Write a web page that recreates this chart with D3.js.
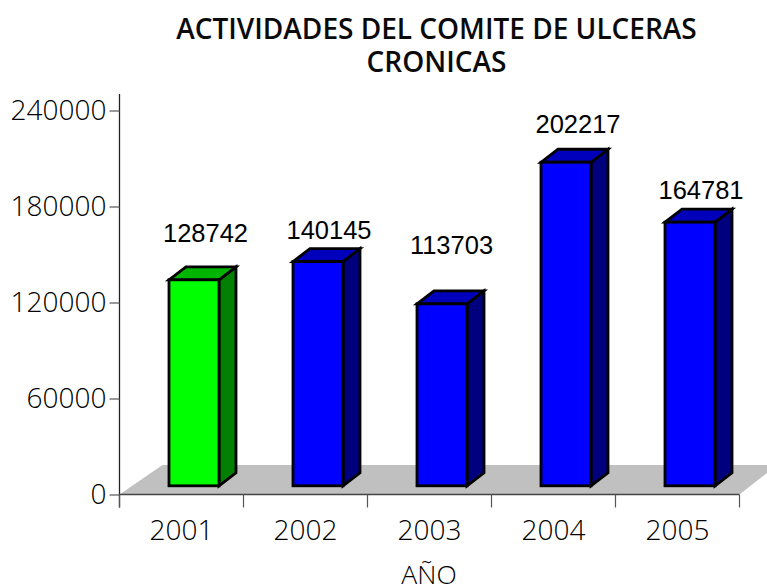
<!DOCTYPE html>
<html><head><meta charset="utf-8">
<script src="https://cdn.jsdelivr.net/npm/d3@7"></script>
<style>html,body{margin:0;padding:0;background:#fff}svg{display:block}</style>
</head><body><div id="chart"></div>
<script>
const categories = ["2001","2002","2003","2004","2005"];
const values = [128742,140145,113703,202217,164781];
const yTicks = [0,60000,120000,180000,240000];
const titleLines = ["ACTIVIDADES DEL COMITE DE ULCERAS","CRONICAS"];
const xTitle = "AÑO";
const fillColors = ["#00ff00","#0000ff","#0000ff","#0000ff","#0000ff"];
const topColors = ["#00b400","#0000bc","#0000bc","#0000bc","#0000bc"];
const sideColors = ["#007f00","#00007f","#00007f","#00007f","#00007f"];

const W=767,H=585, left=119.5,right=739.5,y0=494.5,yT=110.5;
const svg=d3.select("#chart").append("svg").attr("width",W).attr("height",H);
const uiFont='"Open Sans","Noto Sans",sans-serif';
const x=d3.scaleBand().domain(categories).range([left,right]).padding(0);
const y=d3.scaleLinear().domain([0,240000]).range([y0,yT]);

// title
svg.append("g").selectAll("text").data(titleLines).join("text")
  .attr("x",436.5).attr("y",(d,i)=>38.5+i*33.5).attr("text-anchor","middle")
  .attr("font-family",uiFont).attr("font-weight",600).attr("font-size",28).attr("fill","#0a0a0a").text(d=>d);

// floor
svg.append("path").attr("fill","#c0c0c0")
  .attr("d",`M${left},${y0}L${left+43},465L767,465L767,473L${right},${y0}Z`);

// axes
const yAxis=d3.axisLeft(y).tickValues(yTicks).tickSize(10).tickPadding(3).tickFormat(d3.format("d"));
const gy=svg.append("g").attr("transform",`translate(${left},0)`).call(yAxis);
gy.select(".domain").attr("d",`M0,94V${y0+13}`).attr("stroke","#222").attr("stroke-width",1.3);
gy.selectAll(".tick line").attr("stroke","#555").attr("stroke-width",1.2);
gy.selectAll("text").attr("font-family",uiFont).attr("font-weight",300).attr("font-size",28).attr("fill","#000");

const xAxis=d3.axisBottom(x).tickSize(0).tickPadding(26);
const gx=svg.append("g").attr("transform",`translate(0,${y0})`).call(xAxis);
gx.select(".domain").attr("d",`M${left},0H${right}`).attr("stroke","#444").attr("stroke-width",1.5);
gx.selectAll("text").attr("font-family",uiFont).attr("font-weight",300).attr("font-size",28).attr("fill","#000");
svg.append("g").selectAll("line").data(d3.range(categories.length+1)).join("line")
  .attr("x1",i=>left+i*x.step()).attr("x2",i=>left+i*x.step())
  .attr("y1",y0).attr("y2",y0+13).attr("stroke","#555").attr("stroke-width",1.2);

svg.append("text").attr("x",429).attr("y",583.5).attr("text-anchor","middle")
  .attr("font-family",uiFont).attr("font-weight",300).attr("font-size",26.5).attr("fill","#000").text(xTitle);

// bars
const barW=50, dx=17, dy=13, barShift=12.5, lift=y0-485.8;
const labelGap=[46,31,58,38,32], labelShift=[11.5,11,9.5,12,11];
const bars=svg.append("g").selectAll("g").data(values).join("g");
const geom=(d,i)=>{const xl=x(categories[i])+x.bandwidth()/2+barShift-barW/2;return {xl,xr:xl+barW,t:y(d)-lift,b:y0-lift};};
const stroke=e=>e.attr("stroke","#000").attr("stroke-width",2.8).attr("stroke-linejoin","miter");
bars.append("path").attr("fill",(d,i)=>sideColors[i]).call(stroke)
  .attr("d",(d,i)=>{const g=geom(d,i);return `M${g.xr},${g.t}L${g.xr+dx},${g.t-dy}V${g.b-dy}L${g.xr},${g.b}Z`;});
bars.append("path").attr("fill",(d,i)=>topColors[i]).call(stroke)
  .attr("d",(d,i)=>{const g=geom(d,i);return `M${g.xl},${g.t}L${g.xl+dx},${g.t-dy}H${g.xr+dx}L${g.xr},${g.t}Z`;});
bars.append("rect").attr("fill",(d,i)=>fillColors[i]).call(stroke)
  .attr("x",(d,i)=>geom(d,i).xl).attr("y",(d,i)=>geom(d,i).t)
  .attr("width",barW).attr("height",(d,i)=>geom(d,i).b-geom(d,i).t);
bars.append("text").attr("text-anchor","middle").attr("font-family",'"Liberation Sans",Arial,sans-serif')
  .attr("font-size",25.5).attr("fill","#000")
  .attr("x",(d,i)=>geom(d,i).xl+barW/2+labelShift[i])
  .attr("y",(d,i)=>geom(d,i).t-labelGap[i]+8.5)
  .text(d=>d);
</script></body></html>
